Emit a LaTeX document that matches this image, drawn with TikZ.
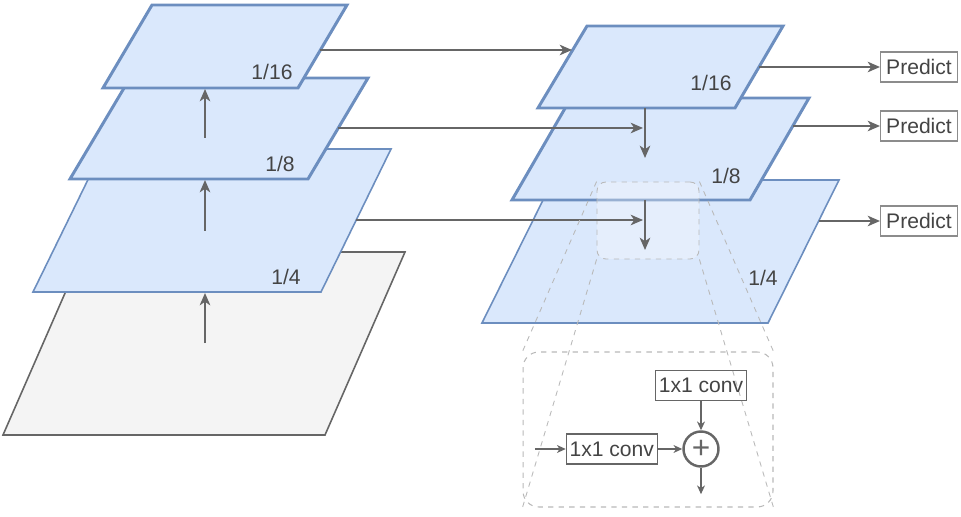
\documentclass[tikz,border=0pt]{standalone}
\usepackage{fontspec}
\setmainfont{Liberation Sans}
\usetikzlibrary{arrows.meta, positioning, calc}
\definecolor{layerFill}{RGB}{218, 232, 252}
\definecolor{layerBorder}{RGB}{108, 142, 191}
\definecolor{inputFill}{RGB}{244, 244, 244}
\definecolor{lineGray}{RGB}{102, 102, 102}
\definecolor{textGray}{RGB}{68, 68, 68}
\definecolor{dashGray}{RGB}{185, 185, 185}
\definecolor{boxGray}{RGB}{140, 140, 140}

\begin{document}
\begin{tikzpicture}[
    x=0.02cm, y=-0.02cm,
    font=\fontsize{12}{14}\selectfont,
    layer/.style={
        fill=layerFill,
        draw=layerBorder,
        line width=0.9pt
    },
    toplayer/.style={
        layer,
        line width=1.7pt
    },
    inputlayer/.style={
        fill=inputFill,
        draw=lineGray,
        line width=0.9pt
    },
    scalelabel/.style={
        text=textGray
    },
    arrow/.style={
        -{Stealth[length=7pt, width=6pt, inset=2pt]},
        line width=1.1pt,
        color=lineGray
    },
    smallarrow/.style={
        -{Stealth[length=5pt, width=4.5pt, inset=1.5pt]},
        line width=0.7pt,
        color=lineGray
    },
    predict/.style={
        rectangle,
        minimum width=1.54cm,
        minimum height=0.6cm,
        inner sep=1pt,
        draw=boxGray,
        line width=0.6pt,
        text=textGray
    },
    conv/.style={
        rectangle,
        minimum width=1.82cm,
        minimum height=0.6cm,
        inner sep=1pt,
        draw=lineGray,
        line width=0.6pt,
        text=textGray
    },
    focusbox/.style={
        rectangle,
        rounded corners=5pt,
        minimum width=2.04cm,
        minimum height=1.54cm,
        draw=dashGray,
        dashed,
        line width=0.5pt,
        fill=white,
        fill opacity=0.3
    },
    zoombox/.style={
        rectangle,
        rounded corners=9pt,
        minimum width=5cm,
        minimum height=3.1cm,
        draw=dashGray,
        dashed,
        line width=0.6pt
    },
    zoomline/.style={
        draw=dashGray,
        dashed,
        line width=0.5pt
    }
]
\useasboundingbox (0,0) rectangle (961,517);

% Bottom-up pathway
\draw[inputlayer] (83,252) -- (405,252) -- (325,435) -- (3,435) -- cycle;
\draw[layer] (103,149) -- (391,149) -- (321,292) -- (33,292) -- cycle;
\draw[toplayer] (130,78) -- (368,78) -- (308,179) -- (70,179) -- cycle;
\draw[toplayer] (152,5) -- (347,5) -- (298,88) -- (103,88) -- cycle;

\node[scalelabel] (c4) at (286,277) {1/4};
\node[scalelabel] (c8) at (280,164) {1/8};
\node[scalelabel] (c16) at (272,72) {1/16};

% Top-down pathway
\draw[layer] (553,180) -- (839,180) -- (768,323) -- (482,323) -- cycle;
\draw[toplayer] (571,98) -- (809,98) -- (750,200) -- (512,200) -- cycle;
\draw[toplayer] (587,26) -- (783,26) -- (735,108) -- (538,108) -- cycle;

\node[scalelabel] (p4) at (763,278) {1/4};
\node[scalelabel] (p8) at (726,176) {1/8};
\node[scalelabel] (p16) at (711,83) {1/16};

% Zoomed region
\node[focusbox] (focus) at (648,220.5) {};

% Connection points
\coordinate (in-up) at (205,343);
\coordinate (c4-bot) at (205,293);
\coordinate (c4-up) at (205,231);
\coordinate (c8-bot) at (205,180);
\coordinate (c8-up) at (205,138);
\coordinate (c16-bot) at (205,89);

\coordinate (c16-out) at (320,50);
\coordinate (c8-out) at (338,128);
\coordinate (c4-out) at (356,220);
\coordinate (p16-in) at (572,50);
\coordinate (p8-in) at (643,128);
\coordinate (p4-in) at (643,220);

\coordinate (p16-down) at (645,108);
\coordinate (p8-top) at (645,158);
\coordinate (p8-down) at (645,200);
\coordinate (p4-top) at (645,250);

\coordinate (p16-out) at (759,67);
\coordinate (p8-out) at (793,126);
\coordinate (p4-out) at (819,221);

% Bottom-up arrows
\draw[arrow] (in-up) -- (c4-bot);
\draw[arrow] (c4-up) -- (c8-bot);
\draw[arrow] (c8-up) -- (c16-bot);

% Lateral connections
\draw[arrow] (c16-out) -- (p16-in);
\draw[arrow] (c8-out) -- (p8-in);
\draw[arrow] (c4-out) -- (p4-in);

% Top-down arrows
\draw[arrow] (p16-down) -- (p8-top);
\draw[arrow] (p8-down) -- (p4-top);

% Predictions
\node[predict] (pred16) at (919,67) {Predict};
\node[predict] (pred8) at (919,126) {Predict};
\node[predict] (pred4) at (919,221) {Predict};

\draw[arrow] (p16-out) -- (pred16.west);
\draw[arrow] (p8-out) -- (pred8.west);
\draw[arrow] (p4-out) -- (pred4.west);

% Merge block
\node[zoombox] (zoom) at (648,429.5) {};
\draw[zoomline] (focus.north west) -- (zoom.north west);
\draw[zoomline] (focus.south west) -- (zoom.south west);
\draw[zoomline] (focus.north east) -- (zoom.north east);
\draw[zoomline] (focus.south east) -- (zoom.south east);

\node[circle, draw=lineGray, line width=1.4pt, minimum size=0.7cm, inner sep=0pt,
      text=lineGray, font=\fontsize{18}{18}\selectfont] (plus) at (701,449) {+};
\node[conv, above=0.59cm of plus] (convtop) {1x1 conv};
\node[conv, left=0.49cm of plus] (convleft) {1x1 conv};
\coordinate[left=0.62cm of convleft.west] (fuse-in);
\coordinate[below=0.53cm of plus.south] (fuse-out);

\draw[smallarrow] (fuse-in) -- (convleft);
\draw[smallarrow] (convleft) -- (plus);
\draw[smallarrow] (convtop) -- (plus);
\draw[smallarrow] (plus) -- (fuse-out);

\end{tikzpicture}
\end{document}
